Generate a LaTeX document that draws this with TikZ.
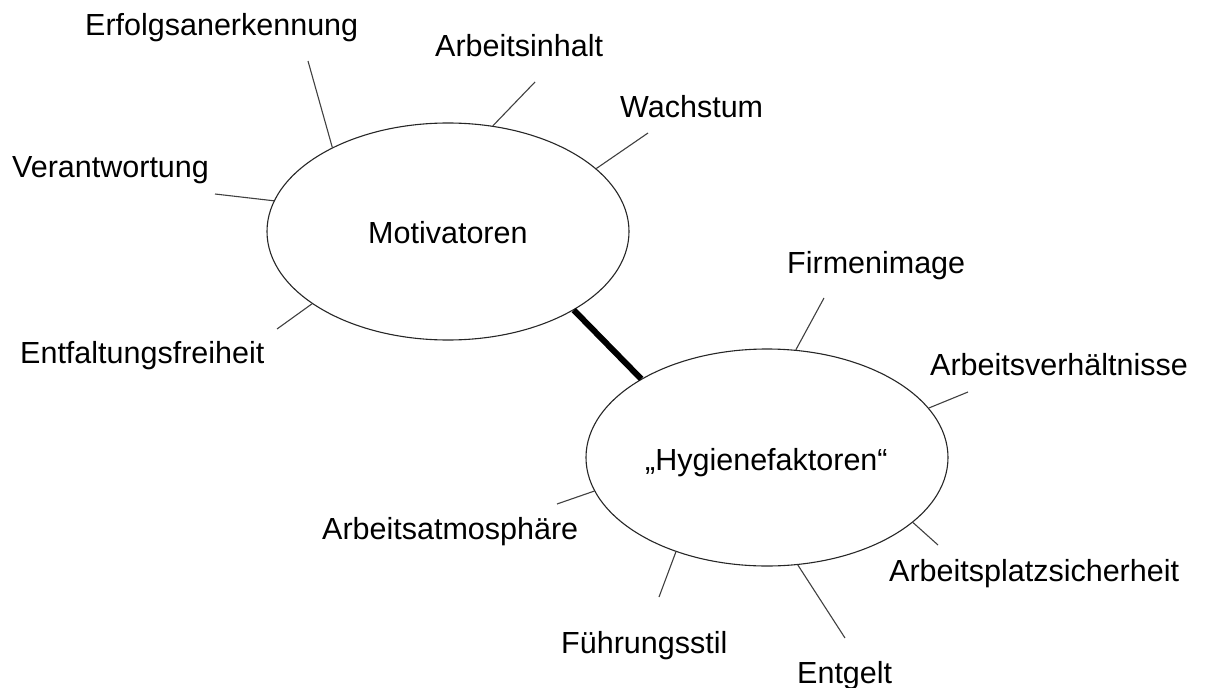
\documentclass[tikz,border=0pt]{standalone}
\usepackage{fontspec}
\setmainfont{Liberation Sans}
\usetikzlibrary{shapes.geometric}
\begin{document}
\begin{tikzpicture}[x=1pt,y=-1pt,
  factor/.style={ellipse,draw=black!85,line width=1.1pt,minimum width=362pt,minimum height=217pt,inner sep=0pt},
  lbl/.style={anchor=base west,inner sep=0pt,font=\fontsize{30.5}{36}\selectfont},
  spoke/.style={draw=black!75,line width=1.1pt},
  link/.style={draw=black,line width=6pt}]
\useasboundingbox (0,0) rectangle (1205,688);

% the two groups of factors
\node[factor] (mot) at (448,231.5) {};
\node[factor] (hyg) at (767,457.5) {};
\draw[link] (mot.328.9) -- (hyg.148.8);

% centre captions
\node[lbl] (tmot) at (368,243) {Motivatoren};
\node[lbl] (thyg) at (645,470) {„Hygienefaktoren“};

% motivators
\node[lbl] (erf) at (85,35) {Erfolgsanerkennung};
\node[lbl] (inh) at (435,56) {Arbeitsinhalt};
\node[lbl] (wac) at (620,117) {Wachstum};
\node[lbl] (ver) at (12,177) {Verantwortung};
\node[lbl] (ent) at (20,363) {Entfaltungsfreiheit};

\coordinate (erfE) at (308,61);
\coordinate (inhE) at (535,82);
\coordinate (wacE) at (648,133);
\coordinate (verE) at (215,194);
\coordinate (entE) at (277,329);
\draw[spoke] (erfE) -- (mot.144.25);
\draw[spoke] (inhE) -- (mot.67.55);
\draw[spoke] (wacE) -- (mot.23.08);
\draw[spoke] (verE) -- (mot.170.8);
\draw[spoke] (entE) -- (mot.208.06);

% hygiene factors
\node[lbl] (fir) at (787,273) {Firmenimage};
\node[lbl] (avh) at (930,375) {Arbeitsverhältnisse};
\node[lbl] (atm) at (322,539) {Arbeitsatmosphäre};
\node[lbl] (aps) at (889,581) {Arbeitsplatzsicherheit};
\node[lbl] (fue) at (561,653) {Führungsstil};
\node[lbl] (ent2) at (797,683) {Entgelt};

\coordinate (firE) at (824,298);
\coordinate (avhE) at (968,392);
\coordinate (atmE) at (557,504);
\coordinate (apsE) at (938,545);
\coordinate (fueE) at (659,597);
\coordinate (entgE) at (845,638);
\draw[spoke] (firE) -- (hyg.75.9);
\draw[spoke] (avhE) -- (hyg.17.4);
\draw[spoke] (atmE) -- (hyg.191.7);
\draw[spoke] (apsE) -- (hyg.336.4);
\draw[spoke] (fueE) -- (hyg.226.7);
\draw[spoke] (entgE) -- (hyg.286.4);
\end{tikzpicture}
\end{document}
